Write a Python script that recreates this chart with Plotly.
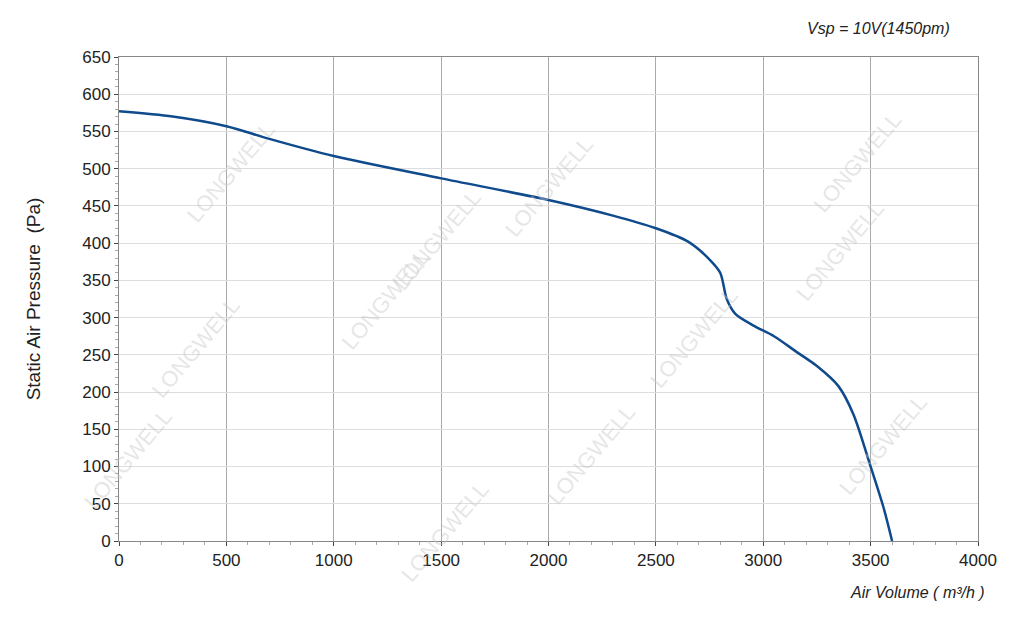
import plotly.graph_objects as go

air_volume = [0, 250, 500, 700, 1000, 1500, 2000, 2300, 2500, 2650, 2750, 2800, 2830, 2870, 2950, 3050, 3150, 3250, 3350, 3420, 3500, 3560, 3600]
pressure = [577, 570, 557, 540, 517, 487, 458, 437, 420, 402, 378, 360, 325, 305, 290, 275, 255, 235, 208, 170, 100, 45, 0]
x_ticks = list(range(0, 4001, 500))
y_ticks = list(range(0, 651, 50))

fig = go.Figure()
fig.add_trace(go.Scatter(x=air_volume, y=pressure, mode="lines",
                         line=dict(color="#0f4a8c", width=2.5, shape="spline", smoothing=0.8)))

wm = [(0.07, 0.88), (0.37, 0.74), (0.03, 0.28), (0.25, 0.5), (0.55, 0.06), (0.73, 0.42),
      (0.5, 0.85), (0.92, 0.9), (0.9, 0.6), (0.95, 0.08), (0.38, -0.1), (-0.05, 0.05)]
for (x, y) in wm:
    fig.add_annotation(x=x, y=y, xref="paper", yref="paper", text="LONGWELL", showarrow=False,
                       textangle=-50, font=dict(size=22, color="rgba(200,200,200,0.45)", family="Liberation Sans"))

fig.add_annotation(x=0.97, y=1.08, xref="paper", yref="paper", xanchor="right", text="<i>Vsp = 10V(1450pm)</i>",
                   showarrow=False, font=dict(size=16, color="#222"))
fig.add_annotation(x=1.01, y=-0.085, xref="paper", yref="paper", xanchor="right", yanchor="top",
                   text="<i>Air Volume ( m³/h )</i>", showarrow=False, font=dict(size=16, color="#222"))

fig.update_layout(
    width=1024, height=630, paper_bgcolor="white", plot_bgcolor="white", showlegend=False,
    margin=dict(l=111, r=54, t=49, b=97),
    font=dict(family="Liberation Sans", size=17, color="#222"),
    xaxis=dict(range=[0, 4000], tickvals=x_ticks, showgrid=True, gridcolor="#aaaaaa", gridwidth=1,
               showline=True, linecolor="#888", mirror=True, ticks="outside", ticklen=4,
               minor=dict(dtick=100, ticks="outside", ticklen=3, tickcolor="#aaa"), zeroline=False),
    yaxis=dict(range=[0, 650], tickvals=y_ticks, showgrid=True, gridcolor="#dddddd", gridwidth=1,
               showline=True, linecolor="#888", mirror=True, ticks="outside", ticklen=4,
               minor=dict(dtick=10, ticks="outside", ticklen=3, tickcolor="#aaa"), zeroline=False,
               title=dict(text="Static Air Pressure  (Pa)", font=dict(size=19), standoff=36)),
)
fig.write_html("out.html")
